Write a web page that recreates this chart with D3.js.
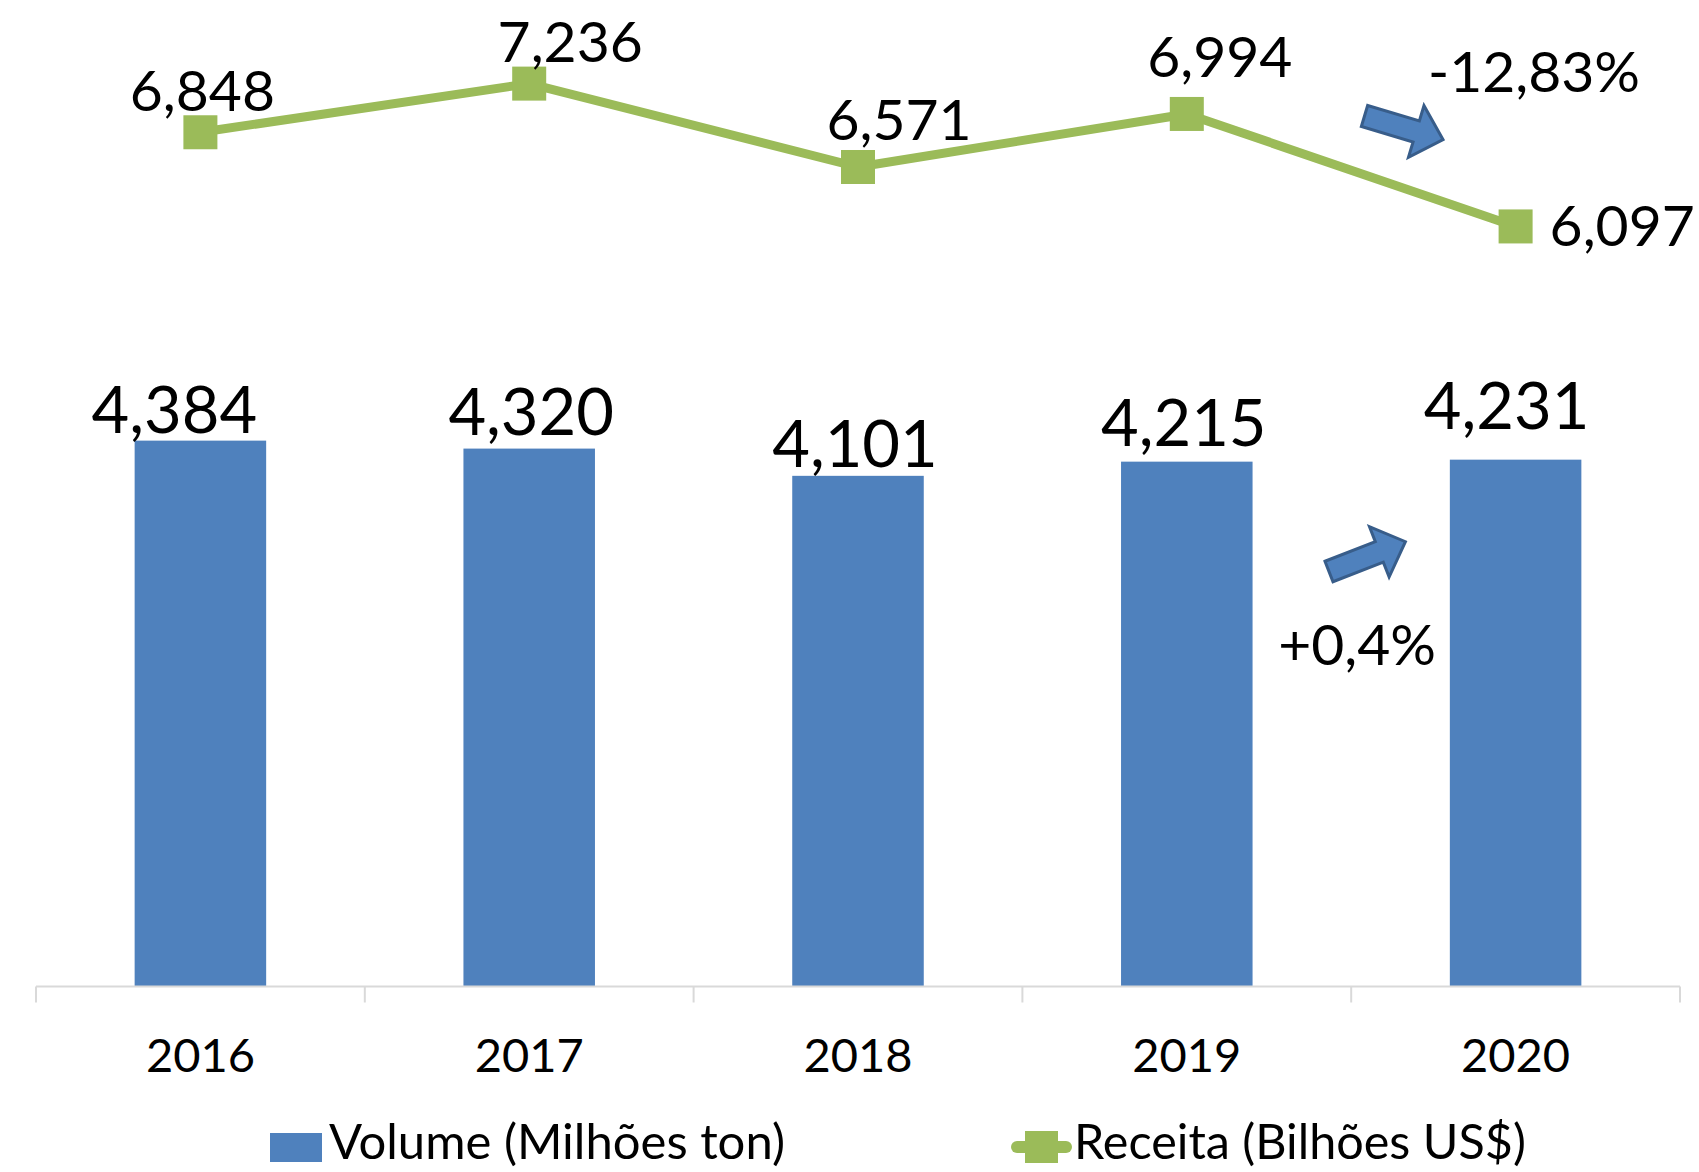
<!DOCTYPE html>
<html>
<head>
<meta charset="utf-8">
<script src="https://cdn.jsdelivr.net/npm/d3@7"></script>
<style>
  html, body { margin: 0; padding: 0; background: #ffffff; }
  svg { display: block; font-family: Lato, "Open Sans", sans-serif; }
</style>
</head>
<body>
<svg id="chart" width="1699" height="1172"></svg>
<script>
// ---- data ----
const years = ["2016", "2017", "2018", "2019", "2020"];
const volume = [4.384, 4.320, 4.101, 4.215, 4.231];     // Volume (Milhões ton)
const receita = [6.848, 7.236, 6.571, 6.994, 6.097];    // Receita (Bilhões US$)
const volumeLabels = ["4,384", "4,320", "4,101", "4,215", "4,231"];
const receitaLabels = ["6,848", "7,236", "6,571", "6,994", "6,097"];
const seriesNames = ["Volume (Milhões ton)", "Receita (Bilhões US$)"];
const changeLabels = ["-12,83%", "+0,4%"];

// ---- layout / style ----
const W = 1699, H = 1172;
const barColor = "#4F81BD", lineColor = "#9BBB59";
const arrowFill = "#4F81BD", arrowStroke = "#385D8A";
// manual label nudges (as placed in the original)
const barLabelNudge = [[-26, -8], [2, -14], [-3, -9], [-3, -16], [-9, -31]];
const lineLabelNudge = [[2, -21], [41, -22], [41, -27], [33, -37]];

const svg = d3.select("#chart");

const x = d3.scaleBand().domain(years).range([36, 1680]).paddingInner(0.6).paddingOuter(0.3);
const yBar = d3.scaleLinear().domain([0, 7]).range([986, 986 - 7 * 124.4]);
const yLine = d3.scaleLinear().domain([0, 7]).range([991, 991 - 7 * 125.4]);
const step = x.step();
const cx = d => x(d) + x.bandwidth() / 2;

// bars
svg.append("g").selectAll("rect").data(years).join("rect")
  .attr("x", d => x(d))
  .attr("y", (d, i) => yBar(volume[i]))
  .attr("width", x.bandwidth())
  .attr("height", (d, i) => yBar(0) - yBar(volume[i]))
  .attr("fill", barColor);

// category axis
const axisY = 986.5;
const axisG = svg.append("g").attr("transform", `translate(0,${axisY})`);
const axis = d3.axisBottom(x).tickSize(0).tickPadding(0);
axisG.call(axis);
axisG.select(".domain").remove();
axisG.selectAll(".tick text")
  .attr("y", 85.5).attr("dy", null)
  .attr("font-size", 47).attr("fill", "#000").attr("font-family", "Lato");
const x0 = x.range()[0];
axisG.append("line").attr("x1", x0).attr("x2", x.range()[1]).attr("y1", 0).attr("y2", 0)
  .attr("stroke", "#D9D9D9").attr("stroke-width", 2);
axisG.selectAll(".bnd").data(d3.range(years.length + 1)).join("line")
  .attr("x1", i => x0 + i * step).attr("x2", i => x0 + i * step)
  .attr("y1", 0).attr("y2", 16)
  .attr("stroke", "#D9D9D9").attr("stroke-width", 2);

// bar labels
svg.append("g").selectAll("text").data(years).join("text")
  .attr("x", (d, i) => cx(d) + barLabelNudge[i][0])
  .attr("y", (d, i) => yBar(volume[i]) + barLabelNudge[i][1])
  .attr("text-anchor", "middle")
  .attr("font-size", 65)
  .attr("fill", "#000")
  .text((d, i) => volumeLabels[i]);

// line
const line = d3.line().x(d => cx(d[0])).y(d => yLine(d[1]));
const pts = years.map((d, i) => [d, receita[i]]);
svg.append("path").attr("d", line(pts))
  .attr("fill", "none").attr("stroke", lineColor).attr("stroke-width", 9)
  .attr("stroke-linejoin", "round");
const ms = 34;
svg.append("g").selectAll("rect").data(pts).join("rect")
  .attr("x", d => cx(d[0]) - ms / 2)
  .attr("y", d => yLine(d[1]) - ms / 2)
  .attr("width", ms).attr("height", ms)
  .attr("fill", lineColor);

// line labels
svg.append("g").selectAll("text").data(pts).join("text")
  .attr("x", (d, i) => i < 4 ? cx(d[0]) + lineLabelNudge[i][0] : cx(d[0]) + 34)
  .attr("y", (d, i) => i < 4 ? yLine(d[1]) + lineLabelNudge[i][1] : yLine(d[1]) + 20)
  .attr("text-anchor", (d, i) => i < 4 ? "middle" : "start")
  .attr("font-size", 57)
  .attr("fill", "#000")
  .text((d, i) => receitaLabels[i]);

// block arrows
function blockArrow(len, s, h, hl) {
  const b = len - hl;
  return [[0, -s], [b, -s], [b, -h], [len, 0], [b, h], [b, s], [0, s]];
}
const arrowPts = blockArrow(82, 11, 27, 28);
function drawArrow(tx, ty, ang) {
  svg.append("polygon")
    .attr("points", arrowPts.map(p => p.join(",")).join(" "))
    .attr("transform", `translate(${tx},${ty}) rotate(${ang})`)
    .attr("fill", arrowFill).attr("stroke", arrowStroke).attr("stroke-width", 3)
    .attr("stroke-linejoin", "miter");
}
drawArrow(1364.5, 116, 16.7);
drawArrow(1329, 571.5, -21.3);

// change annotations
svg.append("text").attr("x", 1428).attr("y", 91.5).attr("font-size", 57).attr("fill", "#000")
  .text(changeLabels[0]);
svg.append("text").attr("x", 1436).attr("y", 665).attr("text-anchor", "end")
  .attr("font-size", 57).attr("fill", "#000").text(changeLabels[1]);

// legend
const lg = svg.append("g");
lg.append("rect").attr("x", 270).attr("y", 1133).attr("width", 52).attr("height", 29).attr("fill", barColor);
lg.append("text").attr("x", 329).attr("y", 1159).attr("font-size", 49).attr("fill", "#000").text(seriesNames[0]);
lg.append("line").attr("x1", 1017).attr("x2", 1066).attr("y1", 1147).attr("y2", 1147)
  .attr("stroke", lineColor).attr("stroke-width", 12).attr("stroke-linecap", "round");
lg.append("rect").attr("x", 1025).attr("y", 1131).attr("width", 33).attr("height", 32).attr("fill", lineColor);
lg.append("text").attr("x", 1074).attr("y", 1159).attr("font-size", 48.5).attr("fill", "#000").text(seriesNames[1]);
</script>
</body>
</html>
